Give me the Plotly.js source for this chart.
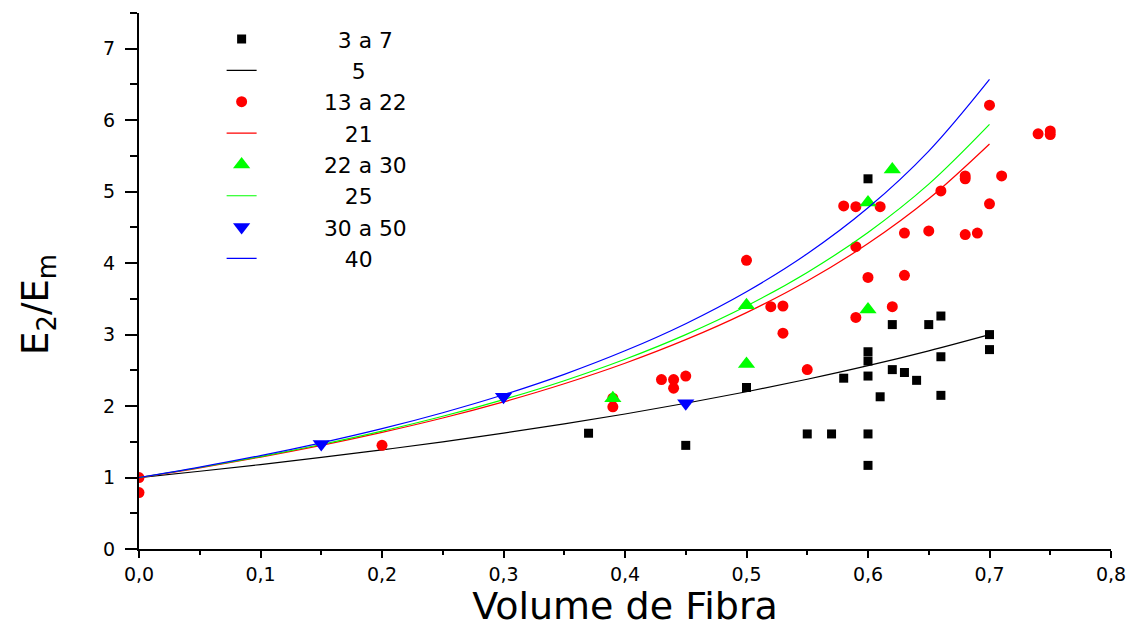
<!DOCTYPE html>
<html>
<head>
<meta charset="utf-8">
<script src="https://cdn.plot.ly/plotly-3.0.1.min.js"></script>
<style>html,body{margin:0;padding:0;background:#fff;}#chart{width:1130px;height:628px;}</style>
</head>
<body>
<div id="chart"></div>
<script>
// Measured points
var sqX = [0.37,0.45,0.50,0.55,0.57,0.58,0.60,0.60,0.60,0.60,0.60,0.60,0.61,0.62,0.62,0.63,0.64,0.65,0.66,0.66,0.66,0.70,0.70];
var sqY = [1.62,1.45,2.26,1.61,1.61,2.39,5.18,2.76,2.63,2.42,1.61,1.17,2.13,3.14,2.51,2.47,2.36,3.14,3.26,2.69,2.15,3.00,2.79];

var ciX = [0.00,0.00,0.20,0.39,0.39,0.43,0.44,0.44,0.45,0.50,0.52,0.53,0.53,0.55,0.58,0.59,0.59,0.59,0.60,0.61,0.62,0.63,0.63,0.65,0.66,0.68,0.68,0.68,0.69,0.70,0.70,0.71,0.74,0.75,0.75];
var ciY = [1.00,0.79,1.45,2.11,1.99,2.37,2.37,2.25,2.42,4.04,3.39,3.40,3.02,2.51,4.80,4.79,4.23,3.24,3.80,4.79,3.39,4.42,3.83,4.45,5.01,5.22,5.18,4.40,4.42,6.21,4.83,5.22,5.81,5.85,5.80];

var tuX = [0.39,0.50,0.50,0.60,0.60,0.62];
var tuY = [2.11,3.41,2.59,4.85,3.35,5.31];

var tdX = [0.15,0.30,0.45];
var tdY = [1.47,2.13,2.04];

// Curves
var curveX = [0,0.05,0.10,0.15,0.20,0.25,0.30,0.35,0.40,0.45,0.50,0.55,0.60,0.65,0.70];
var c5  = [1,1.088,1.182,1.281,1.387,1.500,1.621,1.750,1.889,2.039,2.200,2.375,2.565,2.773,3.000];
var c21 = [1,1.136,1.286,1.450,1.632,1.833,2.059,2.313,2.600,2.929,3.308,3.750,4.273,4.900,5.667];
var c25 = [1,1.140,1.293,1.462,1.649,1.857,2.091,2.355,2.655,3.000,3.400,3.870,4.429,5.105,5.941];
var c40 = [1,1.146,1.307,1.486,1.684,1.907,2.158,2.444,2.773,3.153,3.600,4.131,4.774,5.568,6.571];

var legendNames = ['3 a 7','5','13 a 22','21','22 a 30','25','30 a 50','40'];
var legendPad = [11,13,9,12,9,12,9,12];
function pad(i){ return '\u00a0'.repeat(legendPad[i]) + legendNames[i]; }

var data = [
  {x: sqX, y: sqY, mode:'markers', type:'scatter', name: pad(0),
   marker:{symbol:'square', size:9, color:'#000000'}},
  {x: curveX, y: c5, mode:'lines', type:'scatter', name: pad(1),
   line:{color:'#000000', width:1.2, shape:'spline'}},
  {x: ciX, y: ciY, mode:'markers', type:'scatter', name: pad(2),
   marker:{symbol:'circle', size:11, color:'#ff0000'}},
  {x: curveX, y: c21, mode:'lines', type:'scatter', name: pad(3),
   line:{color:'#ff0000', width:1.2, shape:'spline'}},
  {x: tuX, y: tuY, mode:'markers', type:'scatter', name: pad(4),
   marker:{symbol:'triangle-up', size:15, color:'#00ff00'}},
  {x: curveX, y: c25, mode:'lines', type:'scatter', name: pad(5),
   line:{color:'#00ff00', width:1.2, shape:'spline'}},
  {x: tdX, y: tdY, mode:'markers', type:'scatter', name: pad(6),
   marker:{symbol:'triangle-down', size:15, color:'#0000ff'}},
  {x: curveX, y: c40, mode:'lines', type:'scatter', name: pad(7),
   line:{color:'#0000ff', width:1.2, shape:'spline'}}
];

var fontFam = 'DejaVu Sans, Arial, sans-serif';
var layout = {
  width:1130, height:628,
  margin:{l:139, r:19, t:13, b:79},
  paper_bgcolor:'#ffffff', plot_bgcolor:'#ffffff',
  separators:', ',
  font:{family:fontFam, color:'#000000'},
  showlegend:true,
  legend:{x:0.085, y:0.99, xanchor:'left', yanchor:'top', bgcolor:'rgba(0,0,0,0)',
          borderwidth:0, font:{family:fontFam, size:21.8, color:'#000000'}, itemwidth:30},
  xaxis:{range:[0,0.8], dtick:0.1, tick0:0, tickformat:'.1f',
         ticks:'outside', ticklen:7, tickwidth:2, tickcolor:'#000',
         showline:true, linewidth:2, linecolor:'#000',
         showgrid:false, zeroline:false,
         tickfont:{family:fontFam, size:19, color:'#000'},
         minor:{dtick:0.05, ticks:'outside', ticklen:4, tickwidth:2, tickcolor:'#000'},
         title:{text:'Volume de Fibra', font:{family:fontFam, size:38, color:'#000'}, standoff:9}},
  yaxis:{range:[0,7.5], dtick:1, tick0:0,
         ticks:'outside', ticklen:12, tickwidth:2, tickcolor:'#000',
         showline:true, linewidth:2, linecolor:'#000',
         showgrid:false, zeroline:false, ticklabelstandoff:6,
         tickfont:{family:fontFam, size:19, color:'#000'},
         minor:{dtick:0.5, ticks:'outside', ticklen:7, tickwidth:2, tickcolor:'#000'}},
  annotations:[{xref:'paper', yref:'paper', x:-0.104, y:0.457, xanchor:'center', yanchor:'middle',
    text:'E<sub>2</sub>/E<sub>m</sub>', textangle:-90, showarrow:false,
    font:{family:fontFam, size:37, color:'#000'}}]
};

Plotly.newPlot('chart', data, layout, {displayModeBar:false, staticPlot:true});
</script>
</body>
</html>
